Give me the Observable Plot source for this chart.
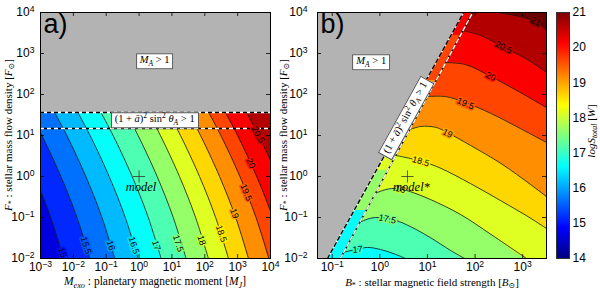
<!DOCTYPE html>
<html><head><meta charset="utf-8">
<script src="https://cdn.jsdelivr.net/npm/d3@7"></script>
<script src="https://cdn.jsdelivr.net/npm/@observablehq/plot@0.6"></script>
<style>
html,body{margin:0;padding:0;background:#fff;}
#fig{position:relative;width:600px;height:290px;overflow:hidden;}
#fig svg{position:absolute;top:0;overflow:visible;}
.lab{position:absolute;white-space:nowrap;font-family:"Liberation Serif","DejaVu Serif",serif;font-size:11px;color:#000;line-height:1;transform:translate(-50%,-50%);}
.lab sub{font-size:0.72em;vertical-align:-0.3em;line-height:0;}
.lab sup{font-size:0.72em;vertical-align:0.5em;line-height:0;}
.box{background:#fff;border:0.8px solid #555;padding:1px 3px 2px 3px;}
</style></head><body><div id="fig"></div>
<script>
// ---------------- data ----------------
const aXDomain = [1e-3, 1e4];
const aYDomain = [1e-2, 1e4];
const bXDomain = [10 ** -1.31, 10 ** 3.5];
const bYDomain = [1e-2, 1e4];
const aXTicks = [1e-3, 1e-2, 1e-1, 1, 1e1, 1e2, 1e3, 1e4];
const aYTicks = [1e-2, 1e-1, 1, 1e1, 1e2, 1e3, 1e4];
const bXTicks = [1e-1, 1, 1e1, 1e2, 1e3];
const bYTicks = [1e-2, 1e-1, 1, 1e1, 1e2, 1e3, 1e4];
const cbTicks = [14, 15, 16, 17, 18, 19, 20, 21];

// panel a: contour levels, sampled at log10 F rows, positions = log10 M
const aLevels = [15, 15.5, 16, 16.5, 17, 17.5, 18, 18.5, 19, 19.5, 20, 20.5];
const aLogF = [-2, -1, 0, 1, 1.56];
const aLogM = [
  [-2.30, -2.69, -3.18, -3.76, -4.13],
  [-1.50, -1.89, -2.38, -2.96, -3.33],
  [-0.74, -1.13, -1.62, -2.20, -2.57],
  [-0.03, -0.42, -0.91, -1.49, -1.86],
  [0.67, 0.28, -0.21, -0.79, -1.16],
  [1.43, 1.04, 0.55, -0.03, -0.40],
  [2.11, 1.72, 1.23, 0.65, 0.28],
  [2.72, 2.33, 1.84, 1.26, 0.89],
  [3.33, 2.94, 2.45, 1.87, 1.50],
  [3.95, 3.56, 3.07, 2.49, 2.12],
  [4.46, 4.07, 3.58, 3.00, 2.63],
  [5.10, 4.71, 4.22, 3.64, 3.27]
];
const aLabelLogM = [-2.33, -1.62, -0.86, -0.16, 0.52, 1.19, 1.90, 2.50, 2.90, 3.26, 3.40, 3.62];
const aLabelLogF = [-1.85, -1.68, -1.68, -1.68, -1.68, -1.63, -1.56, -1.39, -0.90, -0.39, 0.32, 1.02];
const aLabelAngle = [73, 73, 73, 73, 73, 72, 72, 71, 70, 68, 65, 62];
const aBoundaryLogF = [1.56, 1.17]; // M_A = 1 (top), (1+a)^2 sin^2 = 1 (lower)
const aModel = [{M: 1, F: 1, name: "model"}];

// panel b: contour polylines [log10 B, log10 F]
const bLevels = [17, 17.5, 18, 18.5, 19, 19.5, 20, 20.5, 21];
const bContours = [
  [[-0.76, -1.85], [-0.51, -1.78], [-0.26, -1.73], [0.01, -1.78], [0.33, -1.90], [0.54, -2.0]],
  [[-0.43, -1.12], [-0.20, -1.02], [0.01, -1.0], [0.33, -1.07], [0.64, -1.22], [1.06, -1.49], [1.48, -1.80], [1.78, -2.0]],
  [[-0.09, -0.41], [0.12, -0.32], [0.37, -0.29], [0.64, -0.37], [1.06, -0.56], [1.70, -0.93], [2.33, -1.41], [3.08, -2.0]],
  [[0.35, 0.51], [0.64, 0.44], [0.96, 0.34], [1.28, 0.20], [1.90, -0.17], [2.54, -0.59], [3.17, -1.02], [3.50, -1.27]],
  [[0.64, 1.15], [0.86, 1.22], [1.17, 1.20], [1.42, 1.07], [1.90, 0.76], [2.54, 0.32], [3.17, -0.20], [3.50, -0.49]],
  [[1.0, 1.95], [1.38, 1.95], [1.80, 1.80], [2.33, 1.54], [2.95, 1.17], [3.50, 0.83]],
  [[1.38, 2.78], [1.80, 2.73], [2.33, 2.44], [2.95, 2.05], [3.50, 1.68]],
  [[1.74, 3.56], [2.12, 3.44], [2.60, 3.15], [3.06, 2.88], [3.50, 2.54]],
  [[2.47, 4.0], [2.95, 3.90], [3.31, 3.76], [3.50, 3.56]]
];
const bLabelLogB = [-0.47, 0.16, 0.43, 0.86, 1.42, 1.80, 2.33, 2.60, 3.27];
const bLabelLogF = [-1.78, -1.04, -0.31, 0.37, 1.05, 1.78, 2.44, 3.15, 3.78];
const bLabelAngle = [-3, 11, 14, 16, 26, 23, 28, 27, 28];
const bMaBoundary = [[-1.10, -2], [1.76, 4]];      // left dashed line
const bAlfvenBoundary = [[-0.83, -2], [1.95, 4]];  // right dashed line
const bStripLevels = [16.5, 17.5, 18, 18.5, 19, 19.5, 20];
const bStripLogF = [-2, -0.83, 0.15, 0.63, 1.5, 2.34, 3.44, 4];
const bModel = [{B: 3.8, F: 1, name: "model*"}];

// ---------------- styling ----------------
const SERIF = '"Liberation Serif","DejaVu Serif",serif';
const SANS = '"Liberation Sans",Arial,sans-serif';
const GRAY = "#b3b3b3";
const bandShift = 0.15;
const jet = {type: "linear", domain: [14, 14.875, 16.625, 18.375, 20.125, 21],
  range: ["#00007f", "#0000ff", "#00ffff", "#ffff00", "#ff0000", "#7f0000"], interpolate: "rgb"};
const fmt = d => "10^" + Math.round(Math.log10(d));

function frameTicks(xt, yt, iw, ih) {
  return [
    Plot.ruleX(xt, {x: d => d, insetTop: ih - 4, stroke: "#000", strokeWidth: 0.8}),
    Plot.ruleX(xt, {x: d => d, insetBottom: ih - 4, stroke: "#000", strokeWidth: 0.8}),
    Plot.ruleY(yt, {y: d => d, insetLeft: iw - 4, stroke: "#000", strokeWidth: 0.8}),
    Plot.ruleY(yt, {y: d => d, insetRight: iw - 4, stroke: "#000", strokeWidth: 0.8})
  ];
}
function supTicks(svg) {
  svg.querySelectorAll("text").forEach(t => {
    const m = /^10\^(-?\d+)$/.exec(t.textContent);
    if (m) {
      t.textContent = "10";
      const ts = document.createElementNS("http://www.w3.org/2000/svg", "tspan");
      ts.setAttribute("dy", "-0.45em");
      ts.setAttribute("font-size", "0.72em");
      ts.textContent = m[1].replace("-", "\u2212");
      t.appendChild(ts);
    }
  });
}
function xOnLine(line, f) {
  const [[x0, y0], [x1, y1]] = line;
  return x0 + (f - y0) * (x1 - x0) / (y1 - y0);
}

// ---------------- panel a ----------------
const aPts = aLevels.flatMap((level, i) => aLogF.map((f, j) => ({level, M: 10 ** aLogM[i][j], F: 10 ** f})));
const aLabs = aLevels.map((level, i) => ({level, M: 10 ** aLabelLogM[i], F: 10 ** aLabelLogF[i], angle: aLabelAngle[i]}));
const A = {w: 275, h: 290, ml: 40, mr: 5, mt: 12, mb: 32};
const plotA = Plot.plot({
  width: A.w, height: A.h, marginLeft: A.ml, marginRight: A.mr, marginTop: A.mt, marginBottom: A.mb,
  x: {type: "log", domain: aXDomain}, y: {type: "log", domain: aYDomain},
  color: jet,
  style: {fontFamily: SANS, fontSize: "12px", background: "transparent", overflow: "visible"},
  marks: [
    Plot.rect([aLevels[0] - 0.5], {x1: () => aXDomain[0], x2: () => aXDomain[1], y1: () => aYDomain[0], y2: () => aYDomain[1], fill: d => d + bandShift}),
    ...aLevels.map(L => Plot.areaX(aPts.filter(p => p.level === L), {y: "F", x1: "M", x2: () => aXDomain[1], fill: d => d.level + bandShift, curve: "catmull-rom", clip: true})),
    Plot.line(aPts, {x: "M", y: "F", z: "level", stroke: "#111", strokeWidth: 0.8, curve: "catmull-rom", clip: true}),
    Plot.rect([aBoundaryLogF[0]], {x1: () => aXDomain[0], x2: () => aXDomain[1], y1: d => 10 ** d, y2: () => aYDomain[1], fill: GRAY}),
    Plot.ruleY([10 ** aBoundaryLogF[0]], {stroke: "#fff", strokeWidth: 1.4}),
    Plot.ruleY([10 ** aBoundaryLogF[0]], {stroke: "#000", strokeWidth: 1.4, strokeDasharray: "4,3"}),
    Plot.ruleY([10 ** aBoundaryLogF[1]], {stroke: "#000", strokeWidth: 1.4}),
    Plot.ruleY([10 ** aBoundaryLogF[1]], {stroke: "#fff", strokeWidth: 1.4, strokeDasharray: "4,3"}),
    Plot.text(aLabs, {x: "M", y: "F", text: d => String(d.level), rotate: "angle", fontSize: 9, fill: "#000", stroke: d => d.level, strokeWidth: 3, paintOrder: "stroke"}),
    Plot.dot(aModel, {x: "M", y: "F", symbol: "plus", r: 4, stroke: "#333", strokeWidth: 0.8}),
    Plot.text(aModel, {x: "M", y: "F", text: "name", dy: 10, dx: 2, fontFamily: SERIF, fontStyle: "italic", fontSize: 12.5}),
    Plot.text(["a)"], {text: d => d, frameAnchor: "top-left", dx: 3, dy: 1, lineAnchor: "top", textAnchor: "start", fontSize: 27}),
    ...frameTicks(aXTicks, aYTicks, A.w - A.ml - A.mr, A.h - A.mt - A.mb),
    Plot.frame({stroke: "#000"}),
    Plot.axisX({ticks: aXTicks, tickFormat: fmt, tickSize: 0, tickPadding: 4, label: null}),
    Plot.axisY({ticks: aYTicks, tickFormat: fmt, tickSize: 0, tickPadding: 6, label: null})
  ]
});

// ---------------- panel b ----------------
const bPts = bLevels.flatMap((level, i) => bContours[i].map(([b, f]) => ({level, B: 10 ** b, F: 10 ** f})));
const bLx = [Math.log10(bXDomain[0]), Math.log10(bXDomain[1])];
const bAreas = bLevels.map((level, i) => {
  const c = bContours[i].slice();
  if (c[0][0] > bLx[0]) c.unshift([bLx[0], c[0][1]]);
  if (c[c.length - 1][0] < bLx[1]) c.push([bLx[1], c[c.length - 1][1]]);
  return c.map(([b, f]) => ({level, B: 10 ** b, F: 10 ** f}));
});
const bStrip = bStripLevels.map((level, i) => [bStripLogF[i], bStripLogF[i + 1]].map(f => ({level, F: 10 ** f, xl: 10 ** xOnLine(bMaBoundary, f), xr: 10 ** xOnLine(bAlfvenBoundary, f)})));
const bGray = bMaBoundary.map(([b, f]) => ({F: 10 ** f, xl: 10 ** b}));
const bLine1 = bMaBoundary.map(([b, f]) => ({B: 10 ** b, F: 10 ** f}));
const bLine2 = bAlfvenBoundary.map(([b, f]) => ({B: 10 ** b, F: 10 ** f}));
const bLabs = bLevels.map((level, i) => ({level, B: 10 ** bLabelLogB[i], F: 10 ** bLabelLogF[i], angle: bLabelAngle[i]}));
const B = {left: 275, w: 280, h: 290, ml: 42, mr: 9, mt: 12, mb: 32};
const plotB = Plot.plot({
  width: B.w, height: B.h, marginLeft: B.ml, marginRight: B.mr, marginTop: B.mt, marginBottom: B.mb,
  x: {type: "log", domain: bXDomain}, y: {type: "log", domain: bYDomain},
  color: jet,
  style: {fontFamily: SANS, fontSize: "12px", background: "transparent", overflow: "visible"},
  marks: [
    Plot.rect([bStripLevels[0]], {x1: () => bXDomain[0], x2: () => bXDomain[1], y1: () => bYDomain[0], y2: () => bYDomain[1], fill: d => d + bandShift}),
    ...bAreas.map(a => Plot.areaY(a, {x: "B", y1: "F", y2: () => bYDomain[1], fill: d => d.level + bandShift, curve: "catmull-rom", clip: true})),
    Plot.line(bPts, {x: "B", y: "F", z: "level", stroke: "#111", strokeWidth: 0.8, curve: "catmull-rom", clip: true}),
    ...bStrip.map(s => Plot.areaX(s, {y: "F", x1: "xl", x2: "xr", fill: d => d.level + bandShift, clip: true})),
    Plot.areaX(bGray, {y: "F", x1: () => bXDomain[0], x2: "xl", fill: GRAY, clip: true}),
    Plot.line(bLine1, {x: "B", y: "F", stroke: "#fff", strokeWidth: 1.4, clip: true}),
    Plot.line(bLine1, {x: "B", y: "F", stroke: "#000", strokeWidth: 1.4, strokeDasharray: "4,3", clip: true}),
    Plot.line(bLine2, {x: "B", y: "F", stroke: "#000", strokeWidth: 1.4, clip: true}),
    Plot.line(bLine2, {x: "B", y: "F", stroke: "#fff", strokeWidth: 1.4, strokeDasharray: "4,3", clip: true}),
    Plot.text(bLabs, {x: "B", y: "F", text: d => String(d.level), rotate: "angle", fontSize: 9, fill: "#000", stroke: d => d.level, strokeWidth: 3, paintOrder: "stroke"}),
    Plot.dot(bModel, {x: "B", y: "F", symbol: "plus", r: 4, stroke: "#333", strokeWidth: 0.8}),
    Plot.text(bModel, {x: "B", y: "F", text: "name", dy: 10, dx: 4, fontFamily: SERIF, fontStyle: "italic", fontSize: 12.5}),
    Plot.text(["b)"], {text: d => d, frameAnchor: "top-left", dx: 3, dy: 1, lineAnchor: "top", textAnchor: "start", fontSize: 27}),
    ...frameTicks(bXTicks, bYTicks, B.w - B.ml - B.mr, B.h - B.mt - B.mb),
    Plot.frame({stroke: "#000"}),
    Plot.axisX({ticks: bXTicks, tickFormat: fmt, tickSize: 0, tickPadding: 4, label: null}),
    Plot.axisY({ticks: bYTicks, tickFormat: fmt, tickSize: 0, tickPadding: 10, label: null})
  ]
});

// ---------------- colour bar ----------------
const C = {left: 550, w: 50, h: 290, ml: 6, mr: 31, mt: 12, mb: 32};
const plotC = Plot.plot({
  width: C.w, height: C.h, marginLeft: C.ml, marginRight: C.mr, marginTop: C.mt, marginBottom: C.mb,
  x: {domain: [0, 1], axis: null}, y: {domain: [cbTicks[0], cbTicks[cbTicks.length - 1]]},
  color: jet,
  style: {fontFamily: SANS, fontSize: "12px", background: "transparent", overflow: "visible"},
  marks: [
    Plot.raster({fill: (x, y) => y, x1: 0, x2: 1, y1: cbTicks[0], y2: cbTicks[cbTicks.length - 1]}),
    Plot.frame({stroke: "#333"}),
    Plot.axisY({anchor: "right", ticks: cbTicks, tickFormat: d => String(d), tickSize: 0, tickPadding: 3, label: null})
  ]
});

// ---------------- assemble ----------------
const fig = document.getElementById("fig");
[[plotA, 0], [plotB, B.left], [plotC, C.left]].forEach(([p, left]) => {
  p.style.left = left + "px";
  supTicks(p);
  fig.appendChild(p);
});

function addLabel(html, x, y, rot, cls, size) {
  const d = document.createElement("div");
  d.className = "lab" + (cls ? " " + cls : "");
  d.innerHTML = html;
  d.style.left = x + "px";
  d.style.top = y + "px";
  if (size) d.style.fontSize = size + "px";
  d.style.transform = `translate(-50%,-50%) rotate(${rot}deg)`;
  fig.appendChild(d);
}
const MA = '<i>M</i><sub><i>A</i></sub> &gt; 1';
const ALF = '(1 + <i>ā</i>)<sup>2</sup> sin<sup>2</sup> <i>θ</i><sub><i>A</i></sub> &gt; 1';
const aNotes = [{html: MA, logX: 0.49, logF: 2.80, rot: 0}, {html: ALF, logX: 0.49, logF: 1.365, rot: 0}];
const bNotes = [{html: MA, logX: -0.17, logF: 2.78, rot: 0}, {html: ALF, logX: 0.56, logF: 1.41, rot: -61}];
aNotes.forEach(n => addLabel(n.html, plotA.scale("x").apply(10 ** n.logX), plotA.scale("y").apply(10 ** n.logF), n.rot, "box", 10.5));
bNotes.forEach(n => addLabel(n.html, B.left + plotB.scale("x").apply(10 ** n.logX), plotB.scale("y").apply(10 ** n.logF), n.rot, "box", 10.5));

const FSTAR = '<i>F</i><sub>*</sub> : stellar mass flow density [<i>F</i><sub>⊙</sub>]';
addLabel('<i>M</i><sub><i>exo</i></sub> : planetary magnetic moment [<i>M</i><sub><i>J</i></sub>]', 155, 282, 0, "", 11.5);
addLabel('<i>B</i><sub>*</sub> : stellar magnetic field strength [<i>B</i><sub>⊙</sub>]', 432, 282, 0, "", 11);
addLabel(FSTAR, 8, 135, -90, "", 11);
addLabel(FSTAR, 283, 135, -90, "", 11);
addLabel('<i>logS</i><sub><i>total</i></sub> [<i>W</i>]', 591, 131, -90, "", 11);
</script></body></html>
